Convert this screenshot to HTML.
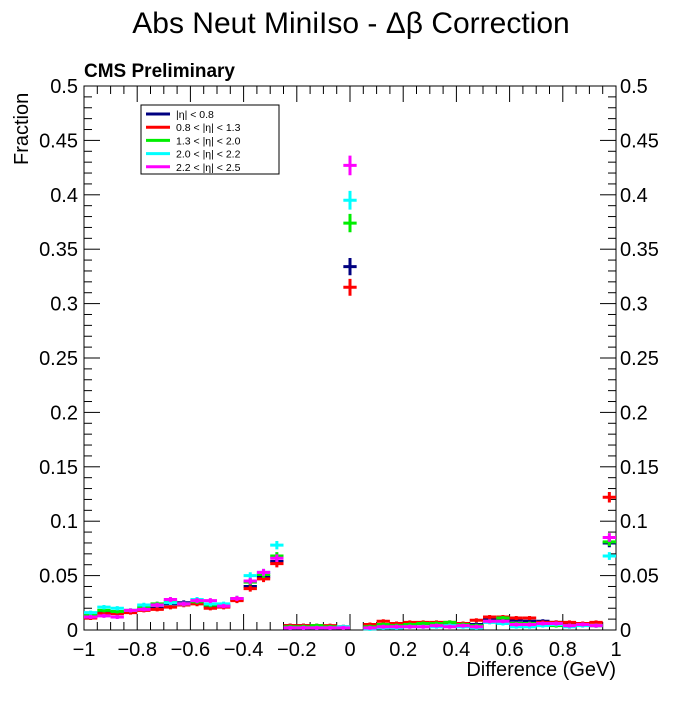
<!DOCTYPE html>
<html><head><meta charset="utf-8"><style>
body{margin:0;background:#fff}
svg text{font-family:"Liberation Sans",sans-serif}
</style></head><body>
<svg id="c" width="700" height="700" viewBox="0 0 700 700">
<rect width="700" height="700" fill="#fff"/>
<text x="351" y="33" font-size="30" text-anchor="middle">Abs Neut MiniIso - Δβ Correction</text>
<text x="84" y="77" font-size="19" font-weight="bold">CMS Preliminary</text>
<rect x="84" y="86" width="532" height="544" fill="none" stroke="#000" stroke-width="1"/>
<g id="axes"></g>
<g id="marks"></g>
<text x="28" y="165" font-size="20" transform="rotate(-90 28 165)" text-anchor="start">Fraction</text>
<text x="616" y="676" font-size="20" text-anchor="end">Difference (GeV)</text>
<g>
<rect x="141" y="105" width="138" height="69" fill="#fff" stroke="#000" stroke-width="1"/>
</g>
<g id="leg"></g>
</svg>
<script>
const categories=[-0.975,-0.925,-0.875,-0.825,-0.775,-0.725,-0.675,-0.625,-0.575,-0.525,-0.475,-0.425,-0.375,-0.325,-0.275,-0.225,-0.175,-0.125,-0.075,-0.025,0.0,0.075,0.125,0.175,0.225,0.275,0.325,0.375,0.425,0.475,0.525,0.575,0.625,0.675,0.725,0.775,0.825,0.875,0.925,0.975];
const seriesNames=["|η| < 0.8","0.8 < |η| < 1.3","1.3 < |η| < 2.0","2.0 < |η| < 2.2","2.2 < |η| < 2.5"];
const seriesColors=["#000080","#ff0000","#00ee00","#00ffff","#ff00ff"];
const etaBin1=[0.013,0.016,0.016,0.017,0.019,0.020,0.024,0.025,0.025,0.022,0.022,0.028,0.040,0.049,0.063,0.004,0.004,0.003,0.003,0.002,0.334,0.004,0.005,0.005,0.005,0.006,0.005,0.006,0.005,0.005,0.010,0.010,0.009,0.008,0.008,0.007,0.006,0.005,0.004,0.080];
const etaBin2=[0.011,0.015,0.015,0.016,0.018,0.019,0.021,0.023,0.024,0.020,0.021,0.027,0.038,0.047,0.061,0.004,0.004,0.004,0.004,0.003,0.315,0.005,0.008,0.006,0.007,0.007,0.007,0.007,0.006,0.009,0.012,0.012,0.011,0.011,0.007,0.007,0.007,0.006,0.007,0.122];
const etaBin3=[0.014,0.018,0.017,0.018,0.021,0.024,0.026,0.024,0.026,0.023,0.023,0.029,0.044,0.051,0.068,0.003,0.003,0.004,0.003,0.002,0.374,0.003,0.005,0.004,0.005,0.006,0.006,0.007,0.005,0.004,0.008,0.011,0.006,0.006,0.005,0.004,0.004,0.005,0.004,0.081];
const etaBin4=[0.016,0.021,0.020,0.018,0.023,0.023,0.025,0.024,0.028,0.024,0.024,0.029,0.050,0.053,0.078,0.002,0.002,0.002,0.002,0.003,0.395,0.001,0.002,0.002,0.003,0.003,0.003,0.004,0.003,0.002,0.007,0.006,0.003,0.003,0.004,0.005,0.003,0.004,0.004,0.068];
const etaBin5=[0.012,0.013,0.012,0.018,0.019,0.023,0.028,0.024,0.027,0.027,0.022,0.029,0.045,0.053,0.066,0.002,0.002,0.002,0.002,0.002,0.427,0.002,0.003,0.003,0.003,0.003,0.004,0.003,0.004,0.003,0.008,0.008,0.005,0.005,0.006,0.006,0.004,0.005,0.004,0.085];
const allSeries=[etaBin1,etaBin2,etaBin3,etaBin4,etaBin5];
const xTickLabels=["−1","−0.8","−0.6","−0.4","−0.2","0","0.2","0.4","0.6","0.8","1"];
const yTickLabels=["0","0.05","0.1","0.15","0.2","0.25","0.3","0.35","0.4","0.45","0.5"];

const NS="http://www.w3.org/2000/svg";
const X0=84,X1=616,Y0=630,Y1=86;
const xs=v=>X0+(v+1)/2*(X1-X0);
const ys=v=>Y0-v/0.5*(Y0-Y1);
function mk(tag,attrs,parent){const e=document.createElementNS(NS,tag);for(const k in attrs)e.setAttribute(k,attrs[k]);parent.appendChild(e);return e;}
const ax=document.getElementById('axes');
for(let i=0;i<=40;i++){
  const v=-1+i*0.05, major=i%4===0, L=major?16:8, px=xs(v);
  const t1=mk('line',{x1:px,x2:px,y1:Y0,y2:Y0-L,stroke:'#000'},ax);
  
  
  const t2=mk('line',{x1:px,x2:px,y1:Y1,y2:Y1+L,stroke:'#000'},ax);
  
  
}
xTickLabels.forEach((s,i)=>{
  const t=mk('text',{x:xs(-1+i*0.2),y:656,'font-size':20,'text-anchor':'middle'},ax);t.textContent=s;
  
  
});
for(let i=0;i<=50;i++){
  const v=i*0.01, major=i%5===0, L=major?16:8, py=ys(v);
  const t1=mk('line',{x1:X0,x2:X0+L,y1:py,y2:py,stroke:'#000'},ax);
  
  
  const t2=mk('line',{x1:X1,x2:X1-L,y1:py,y2:py,stroke:'#000'},ax);
  
  
}
yTickLabels.forEach((s,i)=>{
  const py=ys(i*0.05)+7;
  const t=mk('text',{x:78,y:py,'font-size':20,'text-anchor':'end'},ax);t.textContent=s;
  
  
  const t2=mk('text',{x:620,y:py,'font-size':20,'text-anchor':'start'},ax);t2.textContent=s;
  
  
});
const mg=document.getElementById('marks');
const hw=(xs(0.05)-xs(0))/2;
allSeries.forEach((ser,si)=>{
  const g=mk('g',{stroke:seriesColors[si],'stroke-width':3},mg);
  
  
  ser.forEach((v,i)=>{
    const px=xs(categories[i]), py=ys(v);
    const err=Math.max(2,Math.sqrt(v)*15);
    const p=mk('path',{d:`M${px-hw},${py}H${px+hw}M${px},${py-err}V${py+err}`,fill:'none'},g);
    
    
  });
});
const lg=document.getElementById('leg');
seriesNames.forEach((n,i)=>{
  const y=114+i*13.2;
  const l=mk('line',{x1:146,x2:170,y1:y,y2:y,stroke:seriesColors[i],'stroke-width':3},lg);
  
  
  const t=mk('text',{x:176,y:y+4,'font-size':10.5},lg);t.textContent=n;
  
  
});
</script>
</body></html>
